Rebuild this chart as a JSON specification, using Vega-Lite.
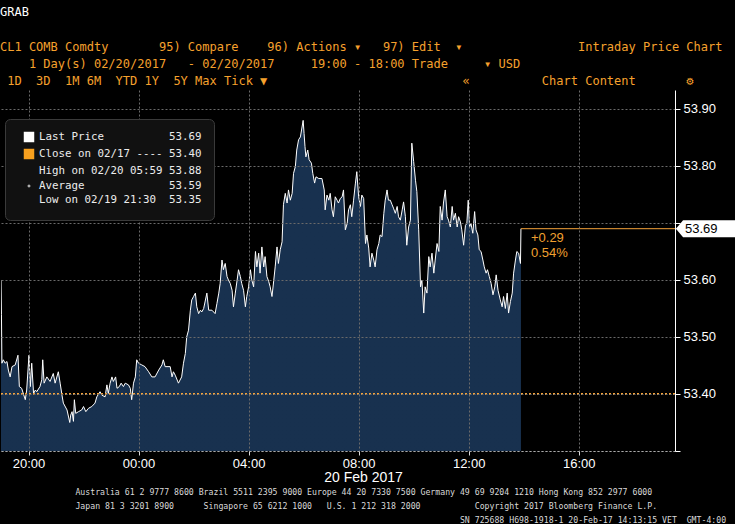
{
  "$schema": "https://vega.github.io/schema/vega-lite/v6.json",
  "background": "#000000",
  "padding": {"top": 6, "left": 0, "right": 0, "bottom": 0},
  "width": 674,
  "height": 361,
  "config": {"view": {"stroke": null, "fill": "#131313"}, "font": "Liberation Sans"},
  "title": {"text": "GRAB", "subtitle": [
      "\u200bCL1 COMB Comdty\u00a0\u00a0\u00a0\u00a0\u00a0\u00a0\u00a095) Compare\u00a0\u00a0\u00a0\u00a096) Actions ▾\u00a0\u00a0\u00a097) Edit\u00a0\u00a0▾\u00a0\u00a0\u00a0\u00a0\u00a0\u00a0\u00a0\u00a0\u00a0\u00a0\u00a0\u00a0\u00a0\u00a0\u00a0\u00a0Intraday Price Chart",
      "\u200b\u00a0\u00a0\u00a0\u00a01\u00a0Day(s)\u00a002/20/2017\u00a0\u00a0\u00a0-\u00a002/20/2017\u00a0\u00a0\u00a0\u00a0\u00a019:00\u00a0-\u00a018:00\u00a0Trade\u00a0\u00a0\u00a0\u00a0\u00a0▾\u00a0USD",
      "\u200b\u00a01D\u00a0\u00a03D\u00a0\u00a01M\u00a06M\u00a0\u00a0YTD\u00a01Y\u00a0\u00a05Y\u00a0Max\u00a0Tick ▼\u00a0\u00a0\u00a0\u00a0\u00a0\u00a0\u00a0\u00a0\u00a0\u00a0\u00a0\u00a0\u00a0\u00a0\u00a0\u00a0\u00a0\u00a0\u00a0\u00a0\u00a0\u00a0\u00a0\u00a0\u00a0\u00a0\u00a0«\u00a0\u00a0\u00a0\u00a0\u00a0\u00a0\u00a0\u00a0\u00a0\u00a0Chart Content\u00a0\u00a0\u00a0\u00a0\u00a0\u00a0\u00a0⚙"],
    "anchor": "start", "font": "DejaVu Sans Mono", "fontSize": 12, "fontWeight": "normal", "color": "#ffffff",
    "subtitleFont": "DejaVu Sans Mono", "subtitleFontSize": 12, "subtitleColor": "#f6a12d", "subtitleLineHeight": 17, "subtitlePadding": 23, "offset": 2},
  "datasets": {
    "price": [
      {"t":"2017-02-19T19:00","p":53.60},{"t":"2017-02-19T19:01","p":53.539},{"t":"2017-02-19T19:02","p":53.454},{"t":"2017-02-19T19:05","p":53.46},{"t":"2017-02-19T19:09","p":53.454},{"t":"2017-02-19T19:13","p":53.457},{"t":"2017-02-19T19:16","p":53.442},{"t":"2017-02-19T19:20","p":53.43},{"t":"2017-02-19T19:24","p":53.448},{"t":"2017-02-19T19:31","p":53.451},{"t":"2017-02-19T19:37","p":53.468},{"t":"2017-02-19T19:40","p":53.413},{"t":"2017-02-19T19:45","p":53.41},{"t":"2017-02-19T19:53","p":53.39},{"t":"2017-02-19T19:56","p":53.407},{"t":"2017-02-19T20:01","p":53.468},{"t":"2017-02-19T20:04","p":53.413},{"t":"2017-02-19T20:07","p":53.454},{"t":"2017-02-19T20:11","p":53.401},{"t":"2017-02-19T20:15","p":53.407},{"t":"2017-02-19T20:18","p":53.404},{"t":"2017-02-19T20:25","p":53.413},{"t":"2017-02-19T20:29","p":53.425},{"t":"2017-02-19T20:31","p":53.46},{"t":"2017-02-19T20:34","p":53.419},{"t":"2017-02-19T20:40","p":53.43},{"t":"2017-02-19T20:47","p":53.422},{"t":"2017-02-19T20:54","p":53.436},{"t":"2017-02-19T20:58","p":53.419},{"t":"2017-02-19T21:05","p":53.439},{"t":"2017-02-19T21:09","p":53.419},{"t":"2017-02-19T21:13","p":53.398},{"t":"2017-02-19T21:16","p":53.384},{"t":"2017-02-19T21:24","p":53.372},{"t":"2017-02-19T21:30","p":53.35},{"t":"2017-02-19T21:32","p":53.363},{"t":"2017-02-19T21:35","p":53.369},{"t":"2017-02-19T21:38","p":53.352},{"t":"2017-02-19T21:40","p":53.39},{"t":"2017-02-19T21:43","p":53.366},{"t":"2017-02-19T21:49","p":53.369},{"t":"2017-02-19T21:56","p":53.372},{"t":"2017-02-19T22:00","p":53.378},{"t":"2017-02-19T22:05","p":53.369},{"t":"2017-02-19T22:11","p":53.375},{"t":"2017-02-19T22:18","p":53.378},{"t":"2017-02-19T22:25","p":53.384},{"t":"2017-02-19T22:29","p":53.395},{"t":"2017-02-19T22:36","p":53.404},{"t":"2017-02-19T22:40","p":53.398},{"t":"2017-02-19T22:47","p":53.395},{"t":"2017-02-19T22:51","p":53.416},{"t":"2017-02-19T22:54","p":53.401},{"t":"2017-02-19T22:58","p":53.419},{"t":"2017-02-19T23:02","p":53.43},{"t":"2017-02-19T23:05","p":53.422},{"t":"2017-02-19T23:10","p":53.43},{"t":"2017-02-19T23:13","p":53.41},{"t":"2017-02-19T23:18","p":53.413},{"t":"2017-02-19T23:22","p":53.419},{"t":"2017-02-19T23:27","p":53.413},{"t":"2017-02-19T23:31","p":53.419},{"t":"2017-02-19T23:38","p":53.416},{"t":"2017-02-19T23:42","p":53.41},{"t":"2017-02-19T23:45","p":53.39},{"t":"2017-02-19T23:49","p":53.419},{"t":"2017-02-19T23:53","p":53.43},{"t":"2017-02-19T23:56","p":53.46},
      {"t":"2017-02-20T00:00","p":53.454},{"t":"2017-02-20T00:07","p":53.451},{"t":"2017-02-20T00:14","p":53.448},{"t":"2017-02-20T00:22","p":53.439},{"t":"2017-02-20T00:29","p":53.43},{"t":"2017-02-20T00:36","p":53.43},{"t":"2017-02-20T00:44","p":53.442},{"t":"2017-02-20T00:51","p":53.451},{"t":"2017-02-20T00:54","p":53.46},{"t":"2017-02-20T00:58","p":53.448},{"t":"2017-02-20T01:09","p":53.448},{"t":"2017-02-20T01:13","p":53.43},{"t":"2017-02-20T01:16","p":53.439},{"t":"2017-02-20T01:20","p":53.433},{"t":"2017-02-20T01:27","p":53.419},{"t":"2017-02-20T01:34","p":53.43},{"t":"2017-02-20T01:38","p":53.454},{"t":"2017-02-20T01:42","p":53.471},{"t":"2017-02-20T01:45","p":53.50},{"t":"2017-02-20T01:49","p":53.512},{"t":"2017-02-20T01:53","p":53.547},{"t":"2017-02-20T01:56","p":53.565},{"t":"2017-02-20T02:00","p":53.571},{"t":"2017-02-20T02:04","p":53.577},{"t":"2017-02-20T02:07","p":53.553},{"t":"2017-02-20T02:11","p":53.541},{"t":"2017-02-20T02:15","p":53.547},{"t":"2017-02-20T02:18","p":53.544},{"t":"2017-02-20T02:22","p":53.55},{"t":"2017-02-20T02:29","p":53.577},{"t":"2017-02-20T02:33","p":53.547},{"t":"2017-02-20T02:40","p":53.547},{"t":"2017-02-20T02:47","p":53.541},{"t":"2017-02-20T02:51","p":53.559},{"t":"2017-02-20T02:55","p":53.577},{"t":"2017-02-20T02:58","p":53.594},{"t":"2017-02-20T03:02","p":53.635},{"t":"2017-02-20T03:05","p":53.618},{"t":"2017-02-20T03:09","p":53.629},{"t":"2017-02-20T03:13","p":53.606},{"t":"2017-02-20T03:16","p":53.60},{"t":"2017-02-20T03:20","p":53.594},{"t":"2017-02-20T03:24","p":53.582},{"t":"2017-02-20T03:27","p":53.553},{"t":"2017-02-20T03:31","p":53.577},{"t":"2017-02-20T03:35","p":53.60},{"t":"2017-02-20T03:38","p":53.618},{"t":"2017-02-20T03:42","p":53.606},{"t":"2017-02-20T03:45","p":53.594},{"t":"2017-02-20T03:49","p":53.582},{"t":"2017-02-20T03:53","p":53.553},{"t":"2017-02-20T03:56","p":53.571},{"t":"2017-02-20T04:00","p":53.588},{"t":"2017-02-20T04:04","p":53.618},{"t":"2017-02-20T04:07","p":53.60},{"t":"2017-02-20T04:11","p":53.588},{"t":"2017-02-20T04:15","p":53.65},{"t":"2017-02-20T04:18","p":53.623},{"t":"2017-02-20T04:22","p":53.647},{"t":"2017-02-20T04:25","p":53.612},{"t":"2017-02-20T04:29","p":53.658},{"t":"2017-02-20T04:33","p":53.623},{"t":"2017-02-20T04:36","p":53.641},{"t":"2017-02-20T04:40","p":53.606},{"t":"2017-02-20T04:44","p":53.597},{"t":"2017-02-20T04:47","p":53.588},{"t":"2017-02-20T04:51","p":53.571},{"t":"2017-02-20T04:55","p":53.60},{"t":"2017-02-20T04:58","p":53.623},{"t":"2017-02-20T05:02","p":53.658},{"t":"2017-02-20T05:05","p":53.629},{"t":"2017-02-20T05:09","p":53.653},{"t":"2017-02-20T05:13","p":53.667},{"t":"2017-02-20T05:16","p":53.732},{"t":"2017-02-20T05:20","p":53.752},{"t":"2017-02-20T05:24","p":53.735},{"t":"2017-02-20T05:27","p":53.758},{"t":"2017-02-20T05:31","p":53.74},{"t":"2017-02-20T05:35","p":53.752},{"t":"2017-02-20T05:38","p":53.787},{"t":"2017-02-20T05:42","p":53.799},{"t":"2017-02-20T05:45","p":53.828},{"t":"2017-02-20T05:49","p":53.846},{"t":"2017-02-20T05:53","p":53.851},{"t":"2017-02-20T05:59","p":53.88},{"t":"2017-02-20T06:01","p":53.857},{"t":"2017-02-20T06:03","p":53.834},{"t":"2017-02-20T06:05","p":53.816},{"t":"2017-02-20T06:09","p":53.828},{"t":"2017-02-20T06:12","p":53.811},{"t":"2017-02-20T06:17","p":53.805},{"t":"2017-02-20T06:20","p":53.787},{"t":"2017-02-20T06:24","p":53.77},{"t":"2017-02-20T06:27","p":53.781},{"t":"2017-02-20T06:33","p":53.778},{"t":"2017-02-20T06:40","p":53.778},{"t":"2017-02-20T06:45","p":53.758},{"t":"2017-02-20T06:47","p":53.723},{"t":"2017-02-20T06:51","p":53.749},{"t":"2017-02-20T06:55","p":53.74},{"t":"2017-02-20T06:58","p":53.752},{"t":"2017-02-20T07:02","p":53.723},{"t":"2017-02-20T07:05","p":53.711},{"t":"2017-02-20T07:09","p":53.746},{"t":"2017-02-20T07:13","p":53.74},{"t":"2017-02-20T07:16","p":53.735},{"t":"2017-02-20T07:20","p":53.743},{"t":"2017-02-20T07:24","p":53.746},{"t":"2017-02-20T07:27","p":53.758},{"t":"2017-02-20T07:31","p":53.688},{"t":"2017-02-20T07:35","p":53.699},{"t":"2017-02-20T07:38","p":53.723},{"t":"2017-02-20T07:42","p":53.732},{"t":"2017-02-20T07:45","p":53.711},{"t":"2017-02-20T07:49","p":53.74},{"t":"2017-02-20T07:53","p":53.77},{"t":"2017-02-20T07:56","p":53.79},{"t":"2017-02-20T08:00","p":53.746},{"t":"2017-02-20T08:04","p":53.729},{"t":"2017-02-20T08:07","p":53.749},{"t":"2017-02-20T08:11","p":53.743},{"t":"2017-02-20T08:15","p":53.664},{"t":"2017-02-20T08:18","p":53.679},{"t":"2017-02-20T08:22","p":53.656},{"t":"2017-02-20T08:25","p":53.623},{"t":"2017-02-20T08:29","p":53.647},{"t":"2017-02-20T08:33","p":53.635},{"t":"2017-02-20T08:36","p":53.623},{"t":"2017-02-20T08:40","p":53.653},{"t":"2017-02-20T08:44","p":53.664},{"t":"2017-02-20T08:47","p":53.679},{"t":"2017-02-20T08:51","p":53.676},{"t":"2017-02-20T08:55","p":53.717},{"t":"2017-02-20T08:58","p":53.74},{"t":"2017-02-20T09:02","p":53.758},{"t":"2017-02-20T09:05","p":53.74},{"t":"2017-02-20T09:09","p":53.74},{"t":"2017-02-20T09:13","p":53.732},{"t":"2017-02-20T09:16","p":53.726},{"t":"2017-02-20T09:20","p":53.717},{"t":"2017-02-20T09:24","p":53.729},{"t":"2017-02-20T09:27","p":53.711},{"t":"2017-02-20T09:31","p":53.705},{"t":"2017-02-20T09:35","p":53.723},{"t":"2017-02-20T09:38","p":53.737},{"t":"2017-02-20T09:42","p":53.711},{"t":"2017-02-20T09:45","p":53.661},{"t":"2017-02-20T09:49","p":53.693},{"t":"2017-02-20T09:53","p":53.705},{"t":"2017-02-20T09:56","p":53.84},{"t":"2017-02-20T10:00","p":53.808},{"t":"2017-02-20T10:04","p":53.775},{"t":"2017-02-20T10:07","p":53.755},{"t":"2017-02-20T10:11","p":53.688},{"t":"2017-02-20T10:15","p":53.588},{"t":"2017-02-20T10:18","p":53.60},{"t":"2017-02-20T10:22","p":53.542},{"t":"2017-02-20T10:25","p":53.588},{"t":"2017-02-20T10:29","p":53.577},{"t":"2017-02-20T10:33","p":53.641},{"t":"2017-02-20T10:36","p":53.623},{"t":"2017-02-20T10:40","p":53.647},{"t":"2017-02-20T10:44","p":53.612},{"t":"2017-02-20T10:47","p":53.635},{"t":"2017-02-20T10:51","p":53.664},{"t":"2017-02-20T10:55","p":53.65},{"t":"2017-02-20T10:58","p":53.729},{"t":"2017-02-20T11:02","p":53.705},{"t":"2017-02-20T11:05","p":53.735},{"t":"2017-02-20T11:09","p":53.758},{"t":"2017-02-20T11:13","p":53.711},{"t":"2017-02-20T11:16","p":53.705},{"t":"2017-02-20T11:20","p":53.693},{"t":"2017-02-20T11:24","p":53.729},{"t":"2017-02-20T11:27","p":53.705},{"t":"2017-02-20T11:31","p":53.717},{"t":"2017-02-20T11:35","p":53.693},{"t":"2017-02-20T11:38","p":53.711},{"t":"2017-02-20T11:42","p":53.702},{"t":"2017-02-20T11:45","p":53.688},{"t":"2017-02-20T11:49","p":53.661},{"t":"2017-02-20T11:53","p":53.696},{"t":"2017-02-20T11:56","p":53.699},{"t":"2017-02-20T11:59","p":53.74},{"t":"2017-02-20T12:02","p":53.693},{"t":"2017-02-20T12:05","p":53.699},{"t":"2017-02-20T12:09","p":53.682},{"t":"2017-02-20T12:13","p":53.72},{"t":"2017-02-20T12:16","p":53.688},{"t":"2017-02-20T12:20","p":53.679},{"t":"2017-02-20T12:23","p":53.653},{"t":"2017-02-20T12:27","p":53.65},{"t":"2017-02-20T12:31","p":53.635},{"t":"2017-02-20T12:34","p":53.623},{"t":"2017-02-20T12:38","p":53.612},{"t":"2017-02-20T12:41","p":53.618},{"t":"2017-02-20T12:45","p":53.606},{"t":"2017-02-20T12:49","p":53.594},{"t":"2017-02-20T12:53","p":53.574},{"t":"2017-02-20T12:57","p":53.588},{"t":"2017-02-20T13:00","p":53.609},{"t":"2017-02-20T13:04","p":53.582},{"t":"2017-02-20T13:09","p":53.565},{"t":"2017-02-20T13:13","p":53.553},{"t":"2017-02-20T13:16","p":53.571},{"t":"2017-02-20T13:20","p":53.55},{"t":"2017-02-20T13:24","p":53.577},{"t":"2017-02-20T13:27","p":53.542},{"t":"2017-02-20T13:31","p":53.562},{"t":"2017-02-20T13:35","p":53.577},{"t":"2017-02-20T13:38","p":53.612},{"t":"2017-02-20T13:42","p":53.635},{"t":"2017-02-20T13:45","p":53.65},{"t":"2017-02-20T13:49","p":53.647},{"t":"2017-02-20T13:53","p":53.629},{"t":"2017-02-20T13:54","p":53.69}
    ],
    "last": [{"t":"2017-02-20T13:54","p":53.69,"chg":0.29,"pct":0.0054}],
    "close": [{"p":53.40}],
    "stats": [
      {"entry":"Last Price 53.69"},
      {"entry":"Close on 02/17 ---- 53.40"},
      {"entry":"High on 02/20 05:59 53.88"},
      {"entry":"Average 53.59"},
      {"entry":"Low on 02/19 21:30 53.35"}
    ]
  },
  "resolve": {"axis": {"x": "independent"}},
  "layer": [
    {
      "data": {"name": "price"},
      "mark": {"type": "area", "clip": true, "color": {"gradient": "linear", "x1": 0, "y1": 0, "x2": 0, "y2": 1, "stops": [
        {"offset": 0, "color": "#18314f"}, {"offset": 0.74, "color": "#132b4a"}, {"offset": 0.75, "color": "#0e2646"}, {"offset": 1, "color": "#0a1e3a"}]}},
      "encoding": {
        "x": {"field": "t", "type": "temporal",
          "scale": {"domain": ["2017-02-19T19:00", "2017-02-20T19:30"]},
          "axis": {"title": "20 Feb 2017", "format": "%H:%M",
            "values": [{"year": 2017, "month": 2, "date": 19, "hours": 20}, {"year": 2017, "month": 2, "date": 20, "hours": 0}, {"year": 2017, "month": 2, "date": 20, "hours": 4}, {"year": 2017, "month": 2, "date": 20, "hours": 8}, {"year": 2017, "month": 2, "date": 20, "hours": 12}, {"year": 2017, "month": 2, "date": 20, "hours": 16}],
            "grid": true, "gridColor": "#6a6a6a", "gridDash": [2, 2],
            "tickColor": "#dddddd", "tickSize": 4,
            "labelColor": "#ffffff", "labelFont": "Liberation Sans", "labelFontSize": 13, "labelPadding": 2,
            "domainColor": "#aaaaaa", "domainDash": [2, 2],
            "titleColor": "#ffffff", "titleFont": "Liberation Sans", "titleFontSize": 14, "titleFontWeight": "normal", "titlePadding": 0, "titleX": 362, "zindex": 1}},
        "y": {"field": "p", "type": "quantitative",
          "scale": {"domain": [53.3, 53.9333], "zero": false, "nice": false},
          "axis": {"orient": "right", "title": null,
            "values": [53.3, 53.4, 53.5, 53.6, 53.7, 53.8, 53.9],
            "labelExpr": "datum.value == 53.7 || datum.value == 53.3 ? '' : format(datum.value, '.2f')",
            "grid": true, "gridColor": "#6a6a6a", "gridDash": [2, 2],
            "domainColor": "#ffffff", "tickColor": "#ffffff", "tickSize": 5,
            "labelColor": "#ffffff", "labelFont": "Liberation Sans", "labelFontSize": 13, "labelPadding": 3, "zindex": 1}}
      }
    },
    {
      "data": {"name": "price"},
      "mark": {"type": "line", "color": "#ffffff", "strokeWidth": 1, "clip": true},
      "encoding": {
        "x": {"field": "t", "type": "temporal",
          "axis": {"orient": "bottom", "labels": false, "ticks": false, "domain": false, "grid": false,
            "title": ["\u200b\u00a0\u00a0\u00a0\u00a0\u00a0\u00a0\u00a0\u00a0\u00a0\u00a0\u00a0\u00a0\u00a0\u00a0\u00a0Australia 61 2 9777 8600 Brazil 5511 2395 9000 Europe 44 20 7330 7500 Germany 49 69 9204 1210 Hong Kong 852 2977 6000",
              "\u200b\u00a0\u00a0\u00a0\u00a0\u00a0\u00a0\u00a0\u00a0\u00a0\u00a0\u00a0\u00a0\u00a0\u00a0\u00a0Japan 81 3 3201 8900\u00a0\u00a0\u00a0\u00a0\u00a0\u00a0Singapore 65 6212 1000\u00a0\u00a0\u00a0U.S. 1 212 318 2000\u00a0\u00a0\u00a0\u00a0\u00a0\u00a0\u00a0\u00a0\u00a0\u00a0\u00a0Copyright 2017 Bloomberg Finance L.P.",
              "\u200b\u00a0\u00a0\u00a0\u00a0\u00a0\u00a0\u00a0\u00a0\u00a0\u00a0\u00a0\u00a0\u00a0\u00a0\u00a0\u00a0\u00a0\u00a0\u00a0\u00a0\u00a0\u00a0\u00a0\u00a0\u00a0\u00a0\u00a0\u00a0\u00a0\u00a0\u00a0\u00a0\u00a0\u00a0\u00a0\u00a0\u00a0\u00a0\u00a0\u00a0\u00a0\u00a0\u00a0\u00a0\u00a0\u00a0\u00a0\u00a0\u00a0\u00a0\u00a0\u00a0\u00a0\u00a0\u00a0\u00a0\u00a0\u00a0\u00a0\u00a0\u00a0\u00a0\u00a0\u00a0\u00a0\u00a0\u00a0\u00a0\u00a0\u00a0\u00a0\u00a0\u00a0\u00a0\u00a0\u00a0\u00a0\u00a0\u00a0\u00a0\u00a0\u00a0\u00a0\u00a0\u00a0\u00a0\u00a0\u00a0\u00a0\u00a0\u00a0\u00a0\u00a0SN 725688 H698-1918-1 20-Feb-17 14:13:15 VET\u00a0\u00a0GMT-4:00"],
            "titleFont": "DejaVu Sans Mono", "titleFontSize": 8.2, "titleFontWeight": "normal", "titleColor": "#d9d9d9",
            "titleAnchor": "start", "titleAlign": "left", "titleLineHeight": 14, "titlePadding": 37}},
        "y": {"field": "p", "type": "quantitative"}
      }
    },
    {
      "data": {"name": "close"},
      "mark": {"type": "rule", "color": "#f5a33a", "strokeWidth": 2, "strokeDash": [2, 2]},
      "encoding": {
        "y": {"field": "p", "type": "quantitative"}
      }
    },
    {
      "data": {"name": "last"},
      "mark": {"type": "rule", "color": "#f5a33a", "strokeWidth": 1},
      "encoding": {
        "x": {"field": "t", "type": "temporal", "axis": null},
        "x2": {"value": "width"},
        "y": {"field": "p", "type": "quantitative"}
      }
    },
    {
      "data": {"name": "last"},
      "mark": {"type": "text", "color": "#f0a030", "font": "Liberation Sans", "fontSize": 13, "align": "left", "baseline": "middle", "dx": 10, "dy": 9},
      "encoding": {
        "x": {"field": "t", "type": "temporal", "axis": null},
        "y": {"field": "p", "type": "quantitative"},
        "text": {"field": "chg", "type": "quantitative", "format": "+.2f"}
      }
    },
    {
      "data": {"name": "last"},
      "mark": {"type": "text", "color": "#f0a030", "font": "Liberation Sans", "fontSize": 13, "align": "left", "baseline": "middle", "dx": 10, "dy": 24},
      "encoding": {
        "x": {"field": "t", "type": "temporal", "axis": null},
        "y": {"field": "p", "type": "quantitative"},
        "text": {"field": "pct", "type": "quantitative", "format": ".2%"}
      }
    },
    {
      "data": {"name": "last"},
      "mark": {"type": "point", "shape": "M0.03,0L0.27,-0.283L2,-0.283L2,0.283L0.27,0.283Z", "size": 3600, "filled": true, "color": "#ffffff", "opacity": 1},
      "encoding": {
        "x": {"value": "width"},
        "y": {"field": "p", "type": "quantitative"}
      }
    },
    {
      "data": {"name": "last"},
      "mark": {"type": "text", "color": "#000000", "font": "Liberation Sans", "fontSize": 13, "align": "left", "baseline": "middle", "dx": 10},
      "encoding": {
        "x": {"value": "width"},
        "y": {"field": "p", "type": "quantitative"},
        "text": {"field": "p", "type": "quantitative", "format": ".2f"}
      }
    },
    {
      "data": {"name": "stats"},
      "mark": {"type": "point", "filled": true, "size": 0, "opacity": 1},
      "encoding": {
        "color": {"field": "entry", "type": "nominal", "sort": null,
          "scale": {"range": ["#ffffff", "#f7a01e", "#b0b0b0", "#b0b0b0", "#b0b0b0"]},
          "legend": {"title": null, "orient": "none", "legendX": 4, "legendY": 29, "padding": 12, "symbolOffset": 6, "symbolSize": 110, "symbolType": "square", "rowPadding": 1, "symbolOpacity": 1,
            "symbolStrokeColor": "#b0b0b0", "symbolStrokeWidth": 1,
            "labelFont": "DejaVu Sans Mono", "labelFontSize": 10.8, "labelColor": "#ececec", "labelOffset": 4, "labelLimit": 400,
            "labelExpr": "pad(slice(datum.label, 0, lastindexof(datum.label, ' ')), 20, '\u00a0') + slice(datum.label, lastindexof(datum.label, ' ') + 1)",
            "fillColor": "#111111", "strokeColor": "#3a3a3a", "cornerRadius": 5, "zindex": 2}},
        "shape": {"field": "entry", "type": "nominal", "sort": null,
          "scale": {"range": ["square", "square", "M-0.5,-1L0.5,-1M0,-1L0,1", "M-1,0L1,0M-0.35,0L0,-0.35L0.35,0L0,0.35Z", "M0,-1L0,1M-0.5,1L0.5,1"]},
          "legend": {"title": null, "orient": "none", "legendX": 4, "legendY": 29, "padding": 12, "symbolOffset": 6, "symbolSize": 110, "rowPadding": 1, "symbolOpacity": 1,
            "symbolStrokeColor": "#b0b0b0", "symbolStrokeWidth": 1,
            "labelFont": "DejaVu Sans Mono", "labelFontSize": 10.8, "labelColor": "#ececec", "labelOffset": 4, "labelLimit": 400,
            "labelExpr": "pad(slice(datum.label, 0, lastindexof(datum.label, ' ')), 20, '\u00a0') + slice(datum.label, lastindexof(datum.label, ' ') + 1)",
            "fillColor": "#111111", "strokeColor": "#3a3a3a", "cornerRadius": 5, "zindex": 2}}
      }
    }
  ]
}
